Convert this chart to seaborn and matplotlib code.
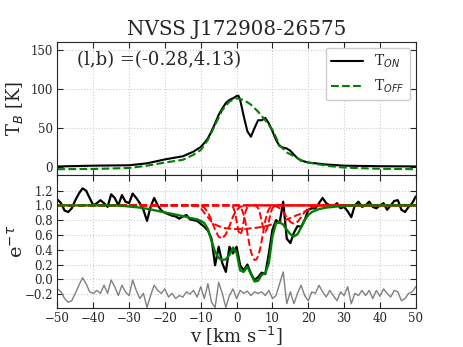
import numpy as np
import pandas as pd
import seaborn as sns
import matplotlib
matplotlib.use("Agg")
import matplotlib.pyplot as plt

# --- emission spectra (top panel) ---
ton_v = [-50, -40, -30, -25, -20, -15, -12, -10, -9, -8, -7, -6, -5, -4, -3, -2, -1, 0, 0.5, 1,
         2, 3, 4, 5, 6, 7, 8, 9, 10, 11, 12, 13, 14, 15, 16, 17, 18, 20, 25, 30, 40, 50]
ton_t = [1, 2, 2.5, 5, 10, 14, 20, 26, 31, 37, 46, 56, 67, 75, 82, 86, 88, 91, 91.5, 86,
         65, 46, 39, 50, 60, 60, 63, 56, 46, 35, 27, 25, 24, 21, 16, 11.5, 8.5, 6, 3.5, 2, 1.3, 1]
toff_v = [-50, -40, -30, -25, -20, -15, -12, -10, -8, -6, -4, -2, 0, 2, 4, 6, 8, 10, 12, 14,
          16, 18, 20, 25, 30, 40, 50]
toff_t = [-2.5, -2.2, -1, 2, 6, 9.5, 16, 22, 35, 54, 73, 84, 88, 86, 80, 71, 60, 48, 28, 19,
          14, 9, 6, 2, -0.5, -2, -2.5]

# --- absorption spectrum (bottom panel), 1 km/s channels ---
vel = list(range(-50, 51))
absorb = [1.08, 1.03, 0.93, 0.91, 0.96, 1.07, 1.16, 1.23, 1.20, 1.10,
          1.00, 1.03, 1.07, 1.03, 0.98, 1.15, 1.10, 1.00, 1.14, 1.05,
          1.03, 1.16, 1.10, 1.03, 0.94, 0.79, 0.98, 1.10, 1.00, 0.93,
          0.90, 0.88, 0.86, 0.85, 0.82, 0.85, 0.87, 0.81, 0.80, 0.79,
          0.75, 0.71, 0.66, 0.55, 0.19, 0.44, 0.22, 0.10, 0.44, 0.35,
          0.44, 0.19, 0.12, 0.20, 0.08, -0.01, 0.03, 0.09, 0.07, 0.35,
          0.67, 0.80, 0.76, 1.05, 0.55, 0.49, 0.63, 0.72, 0.71, 0.80,
          0.94, 0.96, 0.96, 1.03, 1.10, 1.03, 1.00, 0.98, 1.03, 0.96,
          0.98, 0.92, 0.84, 1.00, 1.05, 0.98, 1.00, 1.05, 0.98, 0.96,
          1.00, 1.03, 0.94, 1.00, 1.06, 1.07, 0.94, 0.91, 0.98, 1.03, 1.12]
fit = [1.0] * 10 + \
      [1.0, 1.0, 1.0, 1.0, 1.0, 1.0, 0.998, 0.997, 0.995, 0.99,
       0.985, 0.98, 0.975, 0.97, 0.96, 0.955, 0.945, 0.935, 0.925, 0.915,
       0.905, 0.895, 0.885, 0.875, 0.865, 0.855, 0.845, 0.83, 0.82, 0.81,
       0.79, 0.76, 0.68, 0.52, 0.37, 0.29, 0.26, 0.27, 0.33, 0.43,
       0.36, 0.12, 0.10, 0.17, 0.07, -0.03, -0.02, 0.06, 0.08, 0.22,
       0.58, 0.76, 0.77, 0.74, 0.67, 0.61, 0.58, 0.61, 0.70, 0.80,
       0.87, 0.91, 0.93, 0.95, 0.96, 0.97, 0.975, 0.98, 0.985, 0.99,
       0.993, 0.995, 0.997] + [1.0] * 18
resid = [-0.13, -0.17, -0.26, -0.31, -0.29, -0.19, -0.08, 0.02, -0.06, -0.17,
         -0.19, -0.15, -0.19, -0.08, -0.19, -0.01, -0.10, -0.22, -0.08, -0.17,
         -0.22, -0.01, -0.15, -0.26, -0.19, -0.38, -0.22, -0.08, -0.15, -0.19,
         -0.13, -0.24, -0.19, -0.26, -0.22, -0.24, -0.17, -0.20, -0.15, -0.24,
         -0.10, -0.26, -0.06, -0.31, -0.38, -0.04, -0.19, -0.38, -0.22, -0.13,
         -0.26, -0.15, -0.19, -0.16, -0.22, -0.17, -0.19, -0.17, -0.22, -0.15,
         -0.26, -0.22, -0.06, 0.10, -0.33, -0.17, -0.33, -0.19, -0.08, -0.22,
         -0.29, -0.17, -0.19, -0.08, -0.17, -0.24, -0.15, -0.22, -0.29, -0.17,
         -0.22, -0.10, -0.33, -0.19, -0.22, -0.15, -0.22, -0.15, -0.26, -0.15,
         -0.23, -0.13, -0.19, -0.24, -0.15, -0.17, -0.29, -0.26, -0.19, -0.17, -0.10]

# --- individual Gaussian components, e^-tau ---
comp_broad_v = [-50] + list(range(-12, 24)) + [50]
comp_broad = [1.0, 1.0, 0.99, 0.96, 0.90, 0.84, 0.78, 0.74, 0.72, 0.70, 0.69, 0.685, 0.68,
              0.68, 0.68, 0.68, 0.685, 0.69, 0.695, 0.70, 0.71, 0.72, 0.73, 0.745, 0.76,
              0.775, 0.79, 0.81, 0.83, 0.85, 0.87, 0.89, 0.915, 0.94, 0.965, 0.985, 1.0, 1.0]
comp_b_v = [-50] + list(range(-11, 4)) + [50]
comp_b = [1.0, 1.0, 0.991, 0.967, 0.906, 0.80, 0.67, 0.575, 0.55, 0.61, 0.72, 0.85, 0.936,
          0.98, 0.995, 1.0, 1.0]
comp_c_v = [-50, -2, -1.5, -1, -0.5, 0, 0.5, 1, 1.5, 2, 2.5, 3, 3.5, 4, 50]
comp_c = [1.0, 1.0, 0.996, 0.978, 0.916, 0.79, 0.657, 0.60, 0.657, 0.79, 0.916, 0.978, 0.996,
          1.0, 1.0]
comp_d_v = [-50, 0.5, 1, 1.5, 2, 2.5, 3, 3.5, 4, 4.5, 5, 5.5, 6, 6.5, 7, 7.5, 8, 8.5, 9, 9.5,
            10, 10.5, 50]
comp_d = [1.0, 1.0, 0.974, 0.94, 0.87, 0.766, 0.63, 0.49, 0.375, 0.298, 0.262, 0.266, 0.31,
          0.396, 0.518, 0.66, 0.79, 0.887, 0.947, 0.978, 0.992, 1.0, 1.0]
comp_e_v = [-50, 5, 5.5, 6, 6.5, 7, 7.5, 8, 8.5, 9, 9.5, 10, 10.5, 11, 50]
comp_e = [1.0, 1.0, 0.99, 0.963, 0.895, 0.786, 0.682, 0.64, 0.682, 0.786, 0.895, 0.963, 0.99,
          1.0, 1.0]
comp_f_v = [-50] + list(range(9, 24)) + [50]
comp_f = [1.0, 1.0, 0.997, 0.987, 0.962, 0.91, 0.84, 0.776, 0.75, 0.776, 0.84, 0.91, 0.962,
          0.987, 0.997, 1.0, 1.0]
components = [(comp_broad_v, comp_broad), (comp_b_v, comp_b), (comp_c_v, comp_c),
              (comp_d_v, comp_d), (comp_e_v, comp_e), (comp_f_v, comp_f)]

sns.set_style("ticks", {"xtick.direction": "in", "ytick.direction": "in"})
plt.rcParams["font.family"] = ["DejaVu Serif"]

fig, (ax1, ax2) = plt.subplots(2, 1, sharex=True, figsize=(4.63, 3.47), dpi=100)
fig.subplots_adjust(left=0.124, right=0.898, top=0.879, bottom=0.112, hspace=0)

# top panel
sns.lineplot(x=ton_v, y=ton_t, ax=ax1, color="k", lw=1.5, label=r"T$_{ON}$")
sns.lineplot(x=toff_v, y=toff_t, ax=ax1, color="green", lw=1.5, ls="--", label=r"T$_{OFF}$")
ax1.set_ylim(-10, 160)
ax1.set_yticks([0, 50, 100, 150])
ax1.set_ylabel(r"T$_B$ [K]", fontsize=13)
ax1.yaxis.set_label_coords(-0.09, 0.5)
ax1.set_title("NVSS J172908-26575", fontsize=14.3, pad=5)
ax1.text(0.055, 0.865, "(l,b) =(-0.28,4.13)", transform=ax1.transAxes,
         fontsize=13, va="center")
ax1.legend(loc="upper right", fontsize=10, handlelength=2.3, framealpha=1,
           edgecolor="0.8", fancybox=True, borderaxespad=0.4)

# bottom panel
sns.lineplot(x=vel, y=absorb, ax=ax2, color="k", lw=1.6)
sns.lineplot(x=vel, y=resid, ax=ax2, color="0.5", lw=1.0)
for cv, cy in components:
    sns.lineplot(x=cv, y=cy, ax=ax2, color="red", lw=1.4, ls="--")
sns.lineplot(x=vel, y=fit, ax=ax2, color="green", lw=1.7)
ax2.set_ylim(-0.39, 1.41)
ax2.set_yticks([-0.2, 0.0, 0.2, 0.4, 0.6, 0.8, 1.0, 1.2])
ax2.set_ylabel(r"e$^{-\tau}$", fontsize=14)
ax2.yaxis.set_label_coords(-0.085, 0.5)
ax2.set_xlabel(r"v [km s$^{-1}$]", fontsize=13, labelpad=0)
ax2.set_xlim(-50, 50)
ax2.set_xticks(range(-50, 51, 10))

for ax in (ax1, ax2):
    ax.grid(True, ls=":", color="0.8", lw=0.8)
    ax.tick_params(direction="in", top=True, right=True, labelsize=8.5, length=4, pad=3)

fig.savefig("out.png", dpi=100)
